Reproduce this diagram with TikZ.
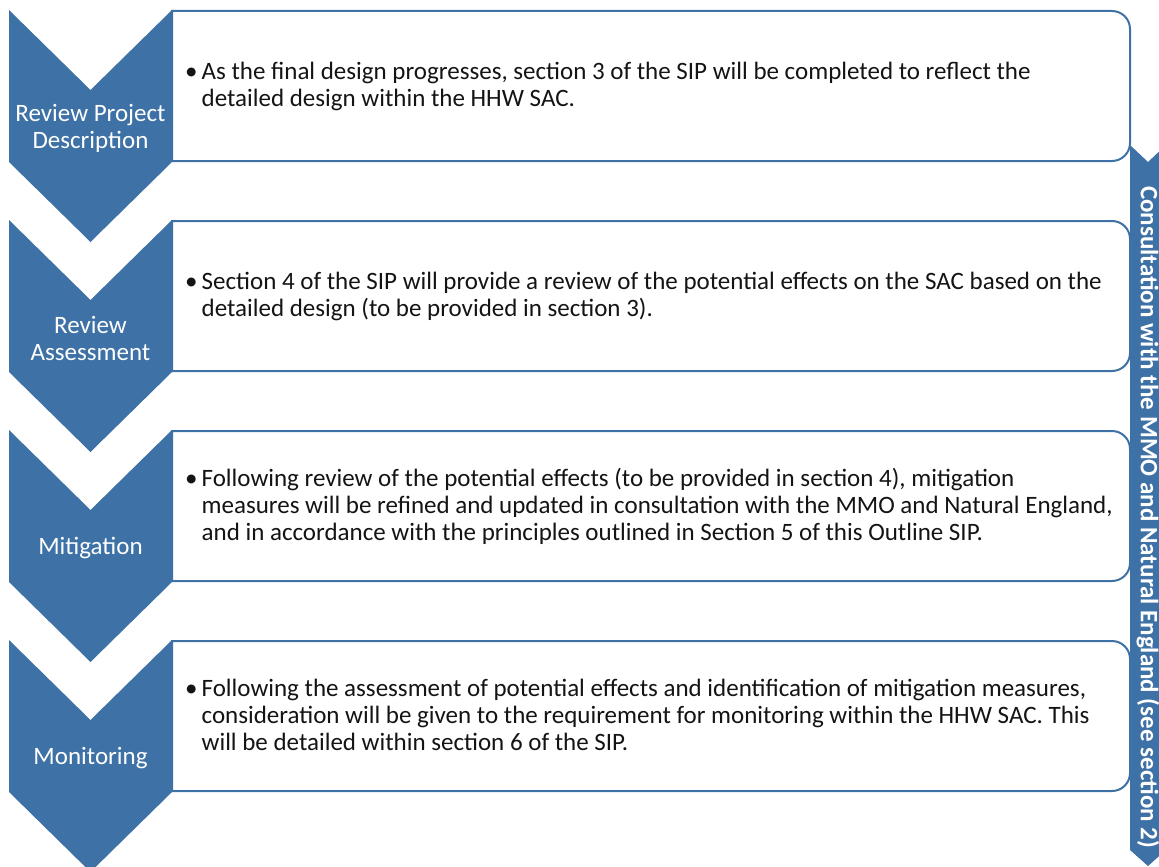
\documentclass[tikz,border=0pt]{standalone}
\usepackage{fontspec}
\setmainfont{Carlito}
\definecolor{chev}{RGB}{62,113,165}
\definecolor{boxline}{RGB}{62,113,165}
\definecolor{txt}{RGB}{20,20,20}
\tikzset{
  chevfill/.style={fill=chev, draw=none},
  stagebox/.style={fill=white, draw=boxline, line width=2pt},
  chevtext/.style={text=white, align=center, font=\fontsize{25}{27}\selectfont, inner sep=0pt},
  bodytext/.style={text=txt, anchor=west, inner sep=0pt, font=\fontsize{25}{27}\selectfont}
}
\newcommand{\bul}[1]{\begin{tabular}{@{}l@{\hspace{4pt}}l@{}}\textbullet & #1\end{tabular}}
\begin{document}
\begin{tikzpicture}[x=1pt,y=-1pt]
\useasboundingbox (0,0) rectangle (1159,867);
\begin{scope}
\clip (0,0) rectangle (1159,867);
% boxes
\foreach \t in {10,220,430,640}{
  \draw[stagebox] (172,\t+1) -- (1112,\t+1) arc[start angle=-90,end angle=0,radius=18]
     -- (1130,\t+133) arc[start angle=0,end angle=90,radius=18] -- (172,\t+151) -- cycle;
}
% chevrons
\foreach \t in {10,220,430,640}{
  \fill[chevfill] (9,\t) -- (90.5,\t+80) -- (172,\t) -- (172,\t+152) -- (90.5,\t+232) -- (9,\t+152) -- cycle;
}
% vertical arrow
\fill[chevfill] (1130,145) -- (1148,162) -- (1166,145) -- (1166,850) -- (1148,866) -- (1130,850) -- cycle;
\end{scope}
% chevron labels
\node[chevtext] (c1) at (90.5,128) {Review Project\\Description};
\node[chevtext] (c2) at (90.5,338) {Review\\Assessment};
\node[chevtext] (c3) at (90.5,548) {Mitigation};
\node[chevtext] (c4) at (90.5,758) {Monitoring};
% box texts
\node[bodytext] (t1) at (185,88) {\bul{As the final design progresses, section 3 of the SIP will be completed to reflect the\\ & detailed design within the HHW SAC.}};
\node[bodytext] (t2) at (185,298) {\bul{Section 4 of the SIP will provide a review of the potential effects on the SAC based on the\\ & detailed design (to be provided in section 3).}};
\node[bodytext] (t3) at (185,508) {\bul{Following review of the potential effects (to be provided in section 4), mitigation\\ & measures will be refined and updated in consultation with the MMO and Natural England,\\ & and in accordance with the principles outlined in Section 5 of this Outline SIP.}};
\node[bodytext] (t4) at (185,718) {\bul{Following the assessment of potential effects and identification of mitigation measures,\\ & consideration will be given to the requirement for monitoring within the HHW SAC. This\\ & will be detailed within section 6 of the SIP.}};
% vertical label
\node[text=white, rotate=-90, inner sep=0pt, font=\bfseries\fontsize{25}{27}\selectfont] (v) at (1148,517) {Consultation with the MMO and Natural England (see section 2)};
\end{tikzpicture}
\end{document}
